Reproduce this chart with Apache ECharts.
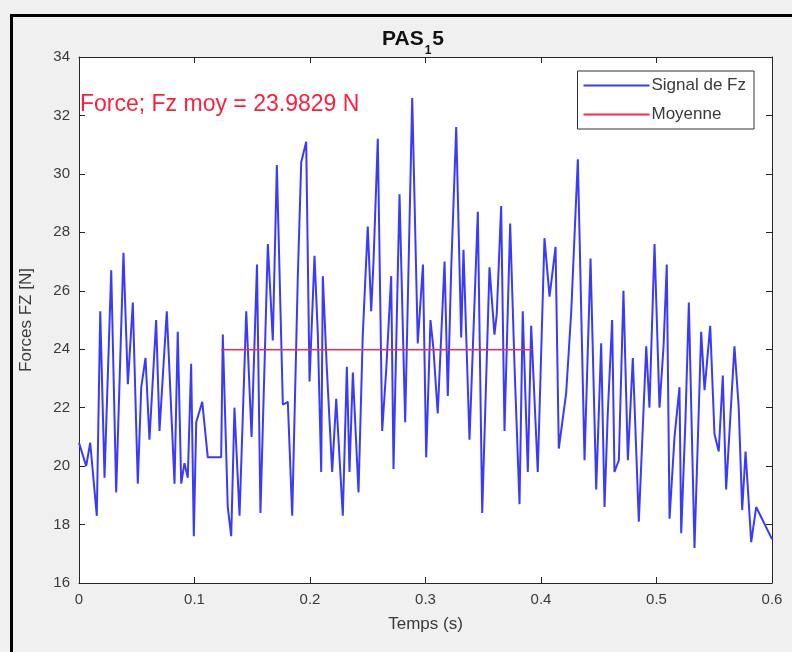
<!DOCTYPE html>
<html>
<head>
<meta charset="utf-8">
<script src="https://cdn.jsdelivr.net/npm/echarts@6/dist/echarts.min.js"></script>
<style>
html,body{margin:0;padding:0;background:#f0f0f0;}
#c{width:792px;height:652px;}
</style>
</head>
<body>
<div id="c"></div>
<script>
var times = [0.000,0.0062,0.0097,0.0154,0.0184,0.0221,0.0279,0.0322,0.0385,0.0423,0.0466,0.0509,0.0539,0.0576,0.0610,0.0668,0.0697,0.0760,0.0827,0.0855,0.0885,0.0913,0.0942,0.0971,0.0994,0.1015,0.1067,0.1115,0.1231,0.1245,0.1288,0.1318,0.1346,0.1390,0.1448,0.1494,0.1541,0.1571,0.1635,0.1678,0.1713,0.1765,0.1808,0.1846,0.1894,0.1924,0.1967,0.1996,0.2039,0.2068,0.2097,0.2111,0.2145,0.2192,0.2227,0.2284,0.2319,0.2342,0.2371,0.2420,0.2457,0.2500,0.2530,0.2550,0.2587,0.2625,0.2660,0.2703,0.2723,0.2775,0.2824,0.2885,0.2933,0.2978,0.3006,0.3043,0.3069,0.3106,0.3165,0.3193,0.3223,0.3266,0.3309,0.3329,0.3381,0.3453,0.3491,0.3554,0.3597,0.3617,0.3655,0.3684,0.3733,0.3771,0.3814,0.3842,0.3886,0.3915,0.3972,0.4030,0.4074,0.4126,0.4154,0.4218,0.4262,0.4319,0.4377,0.4429,0.4478,0.4521,0.4550,0.4578,0.4616,0.4636,0.4674,0.4714,0.4752,0.4795,0.4847,0.4911,0.4939,0.4983,0.5026,0.5061,0.5089,0.5113,0.5156,0.5199,0.5214,0.5251,0.5280,0.5329,0.5387,0.5416,0.5465,0.5502,0.5539,0.5574,0.5603,0.5675,0.5712,0.5742,0.5771,0.5820,0.5863,0.6000];
var forces = [20.8,20.0,20.8,18.3,25.3,19.6,26.7,19.1,27.3,22.8,25.6,19.4,22.7,23.7,20.9,25.0,21.2,25.3,19.4,24.6,19.4,20.1,19.6,23.5,17.6,21.5,22.2,20.3,20.3,24.5,18.6,17.6,22.0,18.3,25.3,21.0,26.9,18.4,27.6,24.3,30.3,22.1,22.2,18.3,26.4,30.4,31.1,22.9,27.2,24.5,19.8,26.5,23.4,19.8,22.3,18.3,23.4,19.8,23.2,19.1,24.5,28.2,25.3,27.0,31.2,21.2,23.3,26.5,19.9,29.3,21.5,32.6,24.2,26.9,20.3,25.0,24.0,21.8,27.0,22.4,26.8,31.6,24.4,27.4,20.9,28.7,18.4,26.8,24.5,25.2,28.9,21.2,28.3,23.4,18.7,25.3,19.8,24.8,19.8,27.8,25.8,27.5,20.6,22.5,25.3,30.5,20.2,27.1,19.2,24.2,18.6,21.8,25.0,19.8,20.2,26.0,20.2,23.7,18.1,24.1,22.0,27.6,22.0,24.1,26.9,18.2,21.0,22.7,17.7,21.6,25.6,17.2,24.6,22.6,24.8,21.1,20.5,23.1,19.2,24.1,22.0,18.5,20.5,17.4,18.6,17.5];
var meanValue = 23.9829;
var meanTimes = [0.123, 0.392];
var xTicks = [0, 0.1, 0.2, 0.3, 0.4, 0.5, 0.6];
var yTicks = [16, 18, 20, 22, 24, 26, 28, 30, 32, 34];

var signalData = times.map(function(t, i){ return [t, forces[i]]; });
var meanData = meanTimes.map(function(t){ return [t, meanValue]; });

var chart = echarts.init(document.getElementById('c'));
var axisCol = '#262626';
var labelCol = '#3a3a3a';
var font = 'Liberation Sans, Arial, sans-serif';

function xAxisDef(pos, showLabel){
  return {
    type: 'value', position: pos, min: 0, max: 0.6, interval: 0.1,
    axisLine: {show: true, onZero: false, lineStyle: {color: axisCol, width: 1}},
    axisTick: {show: true, inside: true, length: 6, lineStyle: {color: axisCol}},
    axisLabel: {show: showLabel, color: labelCol, fontSize: 15, fontFamily: font, margin: 9,
      formatter: function(v){ return v === 0 ? '0' : String(Math.round(v*10)/10); }},
    splitLine: {show: false},
    name: showLabel ? 'Temps (s)' : '', nameLocation: 'middle', nameGap: 33,
    nameTextStyle: {color: labelCol, fontSize: 17, fontFamily: font}
  };
}
function yAxisDef(pos, showLabel){
  return {
    type: 'value', position: pos, min: 16, max: 34, interval: 2,
    axisLine: {show: true, onZero: false, lineStyle: {color: axisCol, width: 1}},
    axisTick: {show: true, inside: true, length: 6, lineStyle: {color: axisCol}},
    axisLabel: {show: showLabel, color: labelCol, fontSize: 15, fontFamily: font, margin: 9},
    splitLine: {show: false},
    name: showLabel ? 'Forces FZ [N]' : '', nameLocation: 'middle', nameGap: 44,
    nameTextStyle: {color: labelCol, fontSize: 17, fontFamily: font}
  };
}

chart.setOption({
  backgroundColor: '#f0f0f0',
  animation: false,
  title: {
    text: '{a|PAS}{s|1}{a|5}',
    left: 408, top: 24, textAlign: 'center',
    textStyle: {
      rich: {
        a: {fontSize: 21, fontFamily: font, color: '#111', fontWeight: 'bold', verticalAlign: 'bottom'},
        s: {fontSize: 12, fontFamily: font, color: '#111', fontWeight: 'bold', verticalAlign: 'bottom', padding: [0, 1, -7, 1]}
      }
    }
  },
  grid: {left: 79, right: 20, top: 57, bottom: 69, show: true, backgroundColor: '#ffffff', borderWidth: 0},
  legend: {
    orient: 'vertical', right: 38, top: 71,
    backgroundColor: '#ffffff', borderColor: '#333', borderWidth: 1,
    padding: [6, 8, 6, 6], itemGap: 12,
    itemWidth: 66, itemHeight: 2, icon: 'rect',
    textStyle: {color: labelCol, fontSize: 17, fontFamily: font, padding: [0, 0, 0, -3]},
    data: ['Signal de Fz', 'Moyenne']
  },
  xAxis: [xAxisDef('bottom', true), xAxisDef('top', false)],
  yAxis: [yAxisDef('left', true), yAxisDef('right', false)],
  graphic: [
    {type: 'rect', left: 9, top: 13, shape: {width: 800, height: 660}, style: {fill: 'none', stroke: '#000', lineWidth: 3}, silent: true},
    {type: 'text', left: 80, top: 93, style: {text: 'Force; Fz moy = 23.9829 N', fill: '#ff1f3d', fontSize: 23, fontFamily: font}}
  ],
  series: [
    {name: 'Signal de Fz', type: 'line', data: signalData, showSymbol: false, symbol: 'none',
     lineStyle: {color: '#3a3aff', width: 2}, itemStyle: {color: '#3a3aff'}},
    {name: 'Moyenne', type: 'line', data: meanData, showSymbol: false, symbol: 'none',
     lineStyle: {color: '#ff2a4a', width: 1.5}, itemStyle: {color: '#ff2a4a'}}
  ]
});
</script>
</body>
</html>
